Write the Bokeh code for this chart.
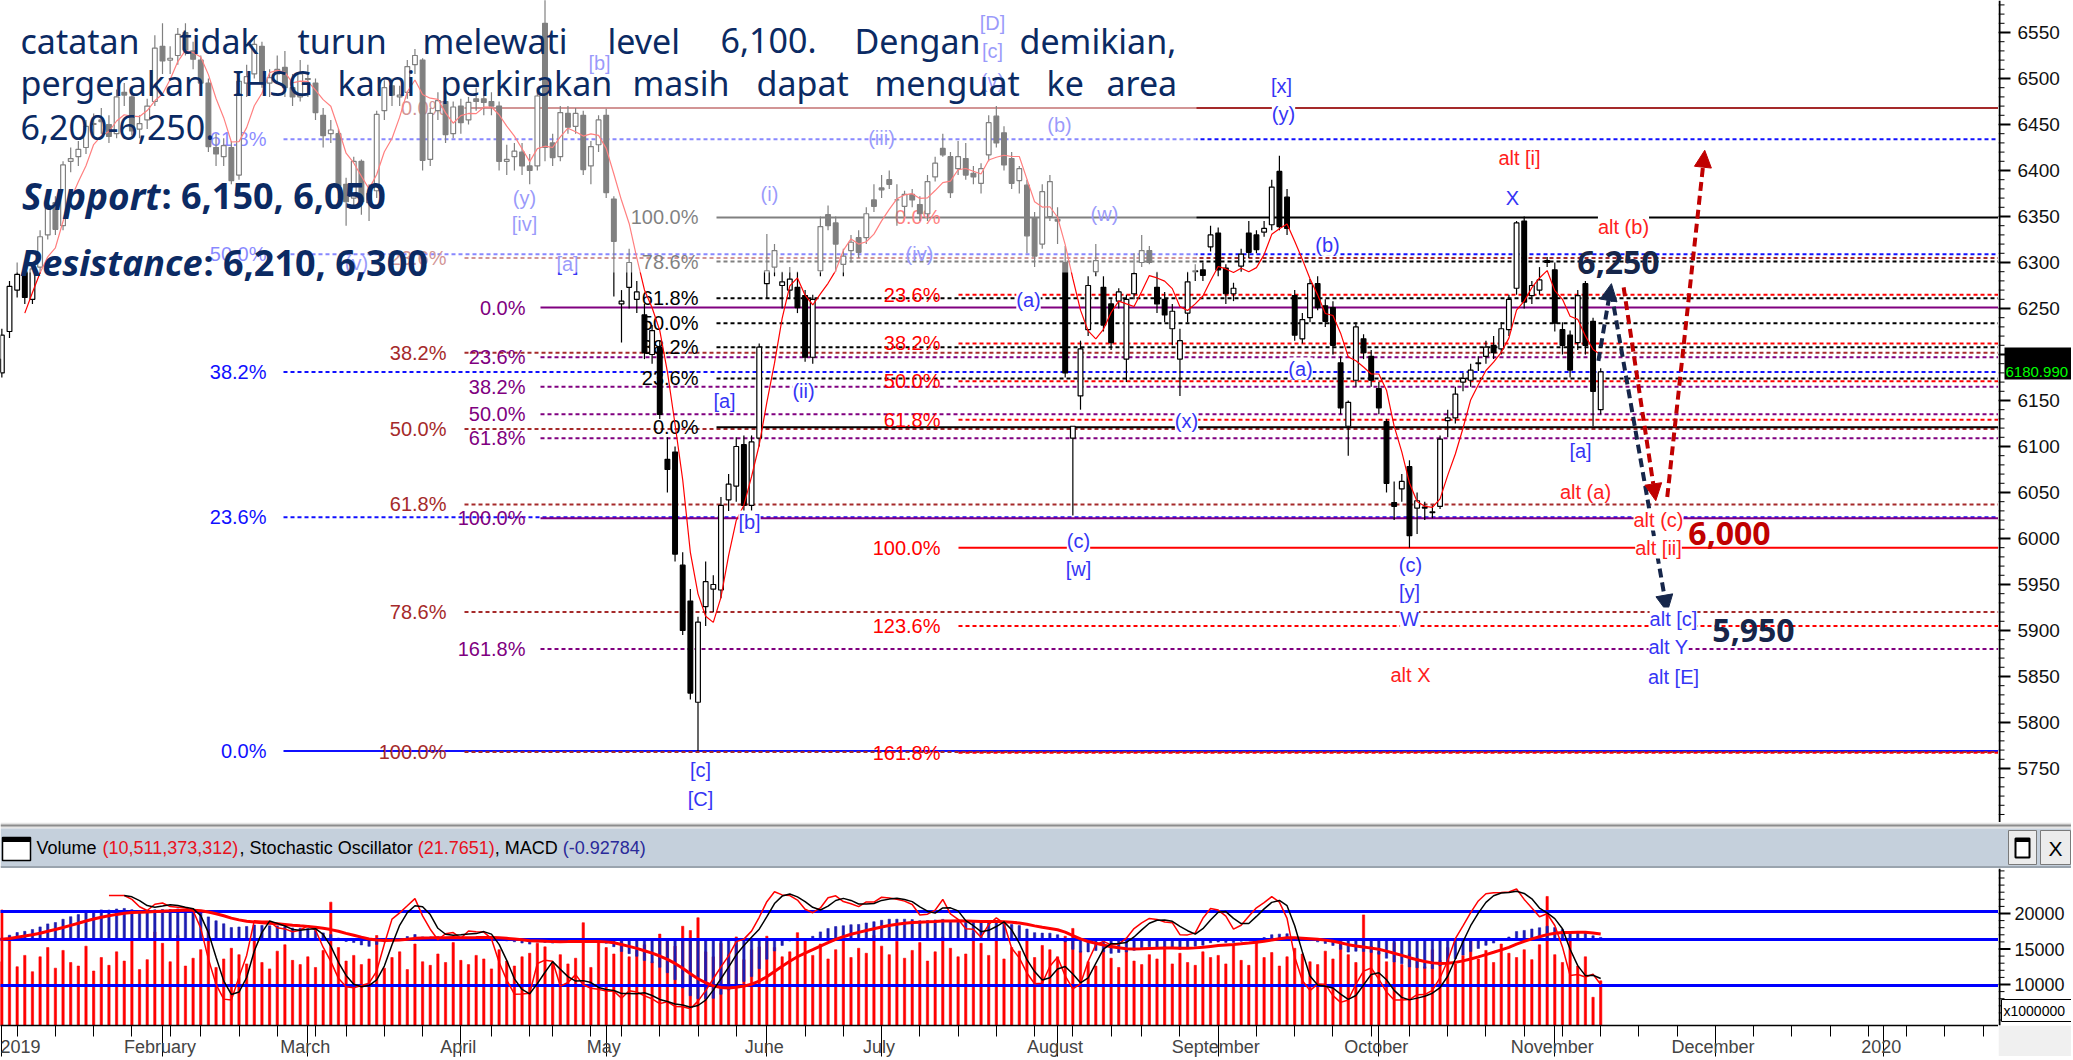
import numpy as np
import pandas as pd
from bokeh.plotting import figure
from bokeh.layouts import column, row
from bokeh.models import (ColumnDataSource, Range1d, FixedTicker, LabelSet,
                          Arrow, NormalHead)
from bokeh.core.properties import value
from bokeh.embed import file_html
from bokeh.resources import INLINE

# ======================= DATA =======================
# Daily IHSG candles, 2 Jan 2019 .. 11 Nov 2019 (one row of numbers per month)
open_ = [
 6195, 6180, 6225, 6270, 6290, 6260, 6295, 6330, 6365, 6340, 6410, 6415, 6425, 6450, 6455, 6450, 6440, 6485, 6480, 6445, 6455, 6475,
 6535, 6520, 6525, 6550, 6530, 6520, 6495, 6425, 6415, 6425, 6395, 6495, 6505, 6535, 6495, 6505, 6512, 6490, 6480,
 6500, 6495, 6460, 6440, 6440, 6385, 6370, 6410, 6365, 6378, 6465, 6492, 6480, 6485, 6515, 6520, 6412, 6465, 6475, 6440,
 6470, 6455, 6478, 6478, 6475, 6470, 6410, 6415, 6420, 6405, 6405, 6560, 6430, 6415, 6462, 6448, 6460, 6405, 6428,
 6460, 6369, 6255, 6273, 6260, 6243, 6200, 6208, 6086, 6094, 5971, 5932, 5822, 5926, 5945, 5944, 6042, 6057, 6102, 6036, 6109,
 6277, 6295, 6275, 6270, 6273, 6264, 6197, 6291, 6352, 6343, 6298, 6313, 6327, 6327, 6368,
 6381, 6390, 6368, 6361, 6374, 6363, 6353, 6393, 6424, 6415, 6402, 6413, 6397, 6386, 6417, 6459, 6441, 6413, 6389, 6384, 6348, 6320, 6350,
 6347, 6300, 6109, 6155, 6227, 6290, 6273, 6255, 6258, 6195, 6266, 6300, 6313, 6273, 6260, 6228, 6195, 6245, 6290, 6292, 6317,
 6332, 6294, 6266, 6296, 6332, 6330, 6333, 6341, 6399, 6371, 6264, 6217, 6240, 6277, 6253, 6251, 6191, 6122, 6172, 6217, 6198,
 6163, 6127, 6039, 6054, 6078, 6033, 6033, 6028, 6035, 6128, 6131, 6170, 6172, 6190, 6198, 6210, 6206, 6227, 6272, 6345, 6264, 6270, 6302,
 6292, 6227, 6221, 6213, 6277, 6236, 6140]
high = [
 6210, 6228, 6280, 6300, 6295, 6300, 6335, 6370, 6372, 6410, 6425, 6432, 6455, 6462, 6468, 6460, 6488, 6495, 6488, 6460, 6478, 6547,
 6560, 6535, 6555, 6560, 6540, 6525, 6500, 6440, 6435, 6432, 6500, 6515, 6545, 6540, 6510, 6525, 6530, 6505, 6520,
 6515, 6500, 6468, 6455, 6445, 6392, 6415, 6412, 6385, 6465, 6498, 6500, 6492, 6520, 6532, 6522, 6468, 6485, 6480, 6475,
 6478, 6480, 6490, 6488, 6485, 6475, 6428, 6430, 6430, 6418, 6490, 6636, 6440, 6470, 6470, 6468, 6465, 6432, 6460,
 6467, 6372, 6270, 6315, 6280, 6255, 6232, 6215, 6110, 6100, 5985, 5945, 5915, 5975, 5960, 6045, 6070, 6110, 6112, 6112, 6212,
 6331, 6320, 6290, 6295, 6290, 6270, 6265, 6350, 6362, 6350, 6315, 6330, 6335, 6360, 6385,
 6395, 6400, 6385, 6378, 6380, 6372, 6395, 6415, 6440, 6420, 6432, 6430, 6405, 6408, 6460, 6470, 6448, 6420, 6405, 6390, 6355, 6385, 6395,
 6360, 6318, 6122, 6215, 6285, 6320, 6285, 6260, 6272, 6265, 6310, 6330, 6318, 6290, 6268, 6255, 6228, 6290, 6298, 6300, 6340,
 6338, 6298, 6278, 6315, 6345, 6335, 6345, 6390, 6416, 6380, 6270, 6245, 6282, 6285, 6260, 6258, 6198, 6150, 6235, 6222, 6205,
 6170, 6130, 6062, 6070, 6085, 6050, 6040, 6036, 6112, 6140, 6165, 6180, 6190, 6198, 6215, 6220, 6235, 6265, 6345, 6350, 6280, 6295, 6306,
 6300, 6235, 6226, 6270, 6280, 6240, 6185]
low = [
 6165, 6175, 6218, 6262, 6255, 6255, 6288, 6325, 6330, 6335, 6398, 6405, 6418, 6438, 6440, 6430, 6435, 6470, 6438, 6435, 6445, 6470,
 6505, 6505, 6515, 6525, 6510, 6490, 6420, 6405, 6405, 6385, 6390, 6480, 6500, 6490, 6480, 6495, 6480, 6470, 6475,
 6480, 6455, 6425, 6430, 6370, 6340, 6360, 6352, 6345, 6370, 6455, 6470, 6470, 6478, 6505, 6400, 6405, 6455, 6430, 6435,
 6440, 6450, 6465, 6460, 6460, 6400, 6395, 6400, 6395, 6385, 6400, 6410, 6405, 6410, 6440, 6440, 6395, 6385, 6420,
 6370, 6263, 6213, 6250, 6245, 6195, 6190, 6130, 6050, 5975, 5895, 5825, 5769, 5905, 5920, 5935, 6030, 6040, 6030, 6030, 6100,
 6261, 6285, 6250, 6262, 6245, 6192, 6190, 6285, 6335, 6290, 6285, 6300, 6305, 6320, 6355,
 6370, 6380, 6340, 6350, 6360, 6345, 6345, 6388, 6415, 6370, 6395, 6390, 6385, 6375, 6410, 6425, 6400, 6380, 6375, 6310, 6295, 6315, 6345,
 6320, 6175, 6025, 6140, 6220, 6285, 6225, 6205, 6250, 6170, 6260, 6295, 6298, 6245, 6235, 6210, 6155, 6235, 6280, 6280, 6312,
 6285, 6255, 6258, 6290, 6305, 6310, 6328, 6335, 6335, 6330, 6215, 6212, 6235, 6248, 6230, 6200, 6135, 6090, 6165, 6195, 6165,
 6135, 6050, 6020, 6040, 5990, 6005, 6020, 6022, 6032, 6110, 6125, 6160, 6165, 6182, 6190, 6195, 6200, 6220, 6265, 6250, 6255, 6265, 6295,
 6225, 6200, 6175, 6205, 6200, 6122, 6135]
close = [
 6181, 6221, 6274, 6287, 6262, 6293, 6328, 6361, 6336, 6406, 6413, 6423, 6448, 6451, 6453, 6437, 6480, 6482, 6443, 6451, 6470, 6533,
 6519, 6522, 6548, 6531, 6521, 6495, 6426, 6418, 6427, 6389, 6497, 6502, 6537, 6495, 6501, 6510, 6490, 6480, 6505,
 6499, 6463, 6438, 6444, 6383, 6366, 6410, 6366, 6375, 6461, 6490, 6482, 6482, 6513, 6525, 6411, 6462, 6476, 6439, 6469,
 6452, 6474, 6475, 6474, 6470, 6410, 6412, 6421, 6405, 6400, 6481, 6425, 6414, 6463, 6447, 6462, 6401, 6426, 6455,
 6376, 6323, 6258, 6300, 6268, 6202, 6226, 6135, 6075, 5983, 5900, 5832, 5909, 5953, 5950, 6036, 6059, 6100, 6036, 6105, 6208,
 6291, 6313, 6279, 6282, 6251, 6197, 6260, 6339, 6340, 6320, 6307, 6322, 6311, 6353, 6361,
 6379, 6385, 6368, 6374, 6368, 6353, 6388, 6408, 6417, 6376, 6415, 6395, 6393, 6402, 6452, 6430, 6406, 6386, 6402, 6329, 6307, 6377, 6388,
 6345, 6180, 6122, 6206, 6275, 6302, 6232, 6213, 6268, 6260, 6288, 6313, 6300, 6255, 6243, 6247, 6215, 6279, 6291, 6286, 6330,
 6292, 6266, 6272, 6309, 6311, 6314, 6337, 6382, 6339, 6337, 6221, 6238, 6277, 6251, 6236, 6210, 6142, 6148, 6230, 6202, 6172,
 6142, 6060, 6035, 6062, 6003, 6041, 6034, 6029, 6108, 6131, 6157, 6174, 6183, 6191, 6208, 6202, 6228, 6260, 6343, 6257, 6275, 6281, 6300,
 6234, 6210, 6183, 6264, 6210, 6160, 6181]
# daily volume, x 1,000,000 shares
volume = [
 13200, 20500, 16800, 12500, 14100, 11800, 13900, 15200, 12300, 14800, 13100, 12600, 15400, 11900, 13800, 12700, 14600, 13300, 16200, 12100, 13500, 17400,
 15800, 13200, 16900, 12600, 13700, 14900, 17800, 12400, 13600, 15100, 14200, 12900, 16400, 13100, 12200, 14700, 15600, 13400, 12800,
 13900, 12400, 14800, 21600, 15200, 13300, 14100, 12800, 13600, 16900, 12300, 13800, 14600, 12100, 15700, 13200, 12700, 14300, 13100, 15900,
 13400, 12800, 14100, 13600, 12200, 14900, 13300, 12600, 13900, 14400, 15800, 15300, 13100, 14200, 12900, 13700, 18700, 12400, 16100,
 15200, 14300, 16100, 13900, 14800, 15600, 13200, 17100, 16300, 15400, 18200, 17600, 19400, 14600, 13900, 15800, 14200, 16700, 13500, 14900, 15300,
 16800, 15200, 13900, 14600, 17300, 16200, 14100, 15700, 13600, 14900, 16400, 13800, 15100, 14400, 16900,
 15400, 14200, 16100, 13700, 14800, 15900, 13300, 14600, 16700, 15100, 13900, 14300, 17200, 15800, 14100, 16400, 13600, 15200, 14700, 16300, 13800, 15500, 14900,
 13900, 16800, 17900, 14700, 13200, 12600, 14900, 13700, 12400, 15100, 13300, 12800, 14200, 13600, 15300, 12900, 14400, 13100, 12700, 14600, 13800,
 14100, 12900, 15600, 13400, 12700, 16200, 13800, 14500, 12600, 13900, 15100, 14300, 13200, 12800, 14700, 13600, 15800, 14200, 13100, 19800, 15400,
 14600, 13200, 15900, 12800, 14300, 13700, 12500, 14900, 13400, 15200, 12900, 14100, 16300, 13600, 14800, 13100, 15700, 14400, 13800, 14900, 13500, 15600, 22400,
 14200, 13100, 16400, 12600, 13900, 8200, 10511]

holidays = ["2019-01-01", "2019-02-05", "2019-03-07", "2019-04-03", "2019-04-17", "2019-04-19",
            "2019-05-01", "2019-05-30", "2019-06-03", "2019-06-04", "2019-06-05", "2019-06-06",
            "2019-06-07", "2019-08-12"]

price_ticks = list(range(5750, 6551, 50))
price_minor = list(range(5700, 6581, 10))
vol_ticks = [10000, 15000, 20000]
vol_minor = list(range(5000, 27001, 1000))

# Fibonacci sets: (label, level, line style)
fib_blue = [("0.0%", 5769, "solid"), ("23.6%", 6023, "dot"), ("38.2%", 6181, "dot"),
            ("50.0%", 6309, "dot"), ("61.8%", 6434, "dot")]
fib_brown = [("0.0%", 6468, "solid"), ("23.6%", 6305, "dot"), ("38.2%", 6202, "dot"), ("50.0%", 6119, "dot"),
             ("61.8%", 6037, "dot"), ("78.6%", 5920, "dot"), ("100.0%", 5768, "dot")]
fib_purple = [("0.0%", 6251, "solid"), ("23.6%", 6197, "dot"), ("38.2%", 6165, "dot"), ("50.0%", 6135, "dot"),
              ("61.8%", 6109, "dot"), ("100.0%", 6022, "solid"), ("161.8%", 5880, "dot")]
fib_black = [("0.0%", 6121, "solid"), ("23.6%", 6174, "dot"), ("38.2%", 6208, "dot"), ("50.0%", 6234, "dot"),
             ("61.8%", 6261, "dot"), ("78.6%", 6301, "dot"), ("100.0%", 6349, "solid")]
fib_red = [("0.0%", 6349, "none"), ("23.6%", 6265, "dot"), ("38.2%", 6212, "dot"), ("50.0%", 6171, "dot"),
           ("61.8%", 6129, "dot"), ("100.0%", 5990, "solid"), ("123.6%", 5905, "dot"), ("161.8%", 5767, "dot")]

# forecast paths (bar index, price)
fc_arrows = [((209.7, 6193), (211.4, 6277), "#16264a"),
             ((211.4, 6267), (218.7, 5920), "#16264a"),
             ((213.0, 6273), (217.2, 6041), "#c00000"),
             ((218.7, 6045), (223.6, 6422), "#c00000")]
last_price_text = "6180.990"
header_parts = [("Volume ", "#000000"), ("(10,511,373,312)", "#e8101c"), (", Stochastic Oscillator ", "#000000"),
                ("(21.7651)", "#e8101c"), (", MACD ", "#000000"), ("(-0.92784)", "#2a2a9a")]

# ======================= LAYOUT HELPERS (page pixels) =======================
FR_L, FR_R = 0, 1998          # plot frame left / right (page px)
P_TOP, P_BOT = 0, 822         # price pane
L_TOP, L_BOT = 868, 1025      # indicator pane
RB = 73                       # right axis band
XAX = 31                      # date axis height

def ix(px):   # page x -> bar index
    return 22 + (px - 162) / 7.65

def pr(py):   # page y -> price
    return 6550 - (py - 32) * 1.087

def vol_at(py):
    return 10000 + (984 - py) / 0.0071

def st_at(py):
    return 20 + (985 - py) / 1.2333

def mc_at(py):
    return (939 - py) * 2.3

# Arial / Liberation Sans advance widths (em) for laying out the header text run
_W = {" ": .278, "(": .333, ")": .333, ",": .278, ".": .278, "-": .333, "V": .667, "S": .667, "O": .778,
      "M": .833, "A": .667, "C": .722, "D": .722, "o": .556, "l": .222, "u": .556, "m": .833, "e": .556,
      "t": .278, "c": .5, "h": .556, "a": .556, "s": .5, "i": .222, "r": .333}

def text_w(s, size):
    return sum(_W.get(ch, .556) for ch in s) * size

NARROW = "Liberation Sans"
BLUE = "#3535f5"
RED = "#ff2020"
NAVY = "#0b2a63"
LBL = "20px"

def base_fig(**kw):
    f = figure(output_backend="svg", toolbar_location=None, min_border=0, min_border_left=0,
               min_border_right=0, min_border_top=0, min_border_bottom=0, outline_line_color=None,
               background_fill_color="white", border_fill_color="white", **kw)
    f.grid.visible = False
    return f

def axis_band(yr, height, ticks, minor, label_x, label_size, bottom_border=0):
    """Right-hand value axis drawn as its own narrow panel (x in px from the axis line)."""
    a = base_fig(frame_width=RB, frame_height=height, x_range=Range1d(0, RB), y_range=yr)
    a.min_border_bottom = bottom_border
    a.border_fill_color = "#f0f0f0"
    a.axis.visible = False
    lo_, hi_ = yr.start, yr.end
    a.segment(x0=[1], y0=[lo_], x1=[1], y1=[hi_], line_color="black", line_width=2)
    a.segment(x0=[0] * len(minor), y0=minor, x1=[6] * len(minor), y1=minor, line_color="black", line_width=1)
    a.segment(x0=[0] * len(ticks), y0=ticks, x1=[12] * len(ticks), y1=ticks, line_color="black", line_width=2)
    a.text(x=[label_x] * len(ticks), y=ticks, text=[str(t) for t in ticks], text_color="#111111",
           text_font=value(NARROW), text_font_size=label_size, text_align="left", text_baseline="middle")
    return a

# ======================= DERIVED =======================
n = len(close)
assert len(open_) == n and len(high) == n and len(low) == n and len(volume) == n
days = pd.bdate_range("2019-01-02", "2019-11-11")
days = days[~days.isin(pd.to_datetime(holidays))]
assert len(days) == n
future = pd.bdate_range("2019-11-12", "2020-02-28")
all_days = days.append(future)

df = pd.DataFrame({"x": np.arange(n), "o": open_, "h": high, "l": low, "c": close, "v": volume})
df["top"] = df[["o", "c"]].max(axis=1)
df["bot"] = df[["o", "c"]].min(axis=1)
df["up"] = df["c"] >= df["o"]
df["ma"] = df["c"].rolling(5).mean()
hh = df["h"].rolling(14).max()
ll = df["l"].rolling(14).min()
fastk = 100 * (df["c"] - ll) / (hh - ll)
df["sk"] = fastk.rolling(3).mean()
df["sd"] = df["sk"].rolling(3).mean()
ema12 = df["c"].ewm(span=12, adjust=False).mean()
ema26 = df["c"].ewm(span=26, adjust=False).mean()
df["macd"] = ema12 - ema26
df["sig"] = df["macd"].ewm(span=9, adjust=False).mean()

x_range = Range1d(ix(FR_L), ix(FR_R))
price_range = Range1d(pr(P_BOT), pr(P_TOP))
vol_range = Range1d(vol_at(L_BOT), vol_at(L_TOP))

# ======================= PRICE PANE =======================
p = base_fig(frame_width=FR_R - FR_L, frame_height=P_BOT - P_TOP, x_range=x_range, y_range=price_range)
p.axis.visible = False

fib_sets = [(fib_blue, "#1010ff", 283, 266), (fib_brown, "#a52a2a", 464, 446),
            (fib_purple, "#800080", 540, 525), (fib_black, "#000000", 716, 698),
            (fib_red, "#ff0000", 958, 940)]
x_end = ix(FR_R) + 1
for fset, col, start_px, lab_px in fib_sets:
    for lab, lev, style in fset:
        if style == "solid":
            p.segment(x0=[ix(start_px)], y0=[lev], x1=[x_end], y1=[lev], line_color=col, line_width=2)
        elif style == "dot":
            p.segment(x0=[ix(start_px)], y0=[lev], x1=[x_end], y1=[lev], line_color=col,
                      line_width=2, line_dash="4 3")
    p.text(x=[ix(lab_px)] * len(fset), y=[f[1] for f in fset], text=[f[0] for f in fset],
           text_color=col, text_font=value(NARROW), text_font_size=LBL,
           text_align="right", text_baseline="middle")

# candles
src = ColumnDataSource(df)
p.segment(x0="x", y0="l", x1="x", y1="h", source=src, line_color="black", line_width=1.2)
up_src = ColumnDataSource(df[df["up"]])
dn_src = ColumnDataSource(df[~df["up"]])
p.vbar(x="x", top="top", bottom="bot", width=0.62, source=up_src, fill_color="white",
       line_color="black", line_width=1.2)
p.vbar(x="x", top="top", bottom="bot", width=0.62, source=dn_src, fill_color="black",
       line_color="black", line_width=1.2)
p.line(x="x", y="ma", source=src, line_color="#ff0000", line_width=1.2)

# wave labels lying under the text panel (get faded by the overlay)
wave_u = [("[D]", 992, 22), ("[c]", 992, 50), ("(v)", 992, 80), ("[b]", 599, 62), ("(y)", 524, 197),
          ("[iv]", 524, 223), ("(iii)", 881, 137), ("(i)", 769, 193), ("(iv)", 919, 253),
          ("(b)", 1059, 124), ("(w)", 1104, 213), ("[a]", 567, 263), ("(v)", 356, 262)]
p.text(x=[ix(w[1]) for w in wave_u], y=[pr(w[2]) for w in wave_u], text=[w[0] for w in wave_u],
       text_color=BLUE, text_font=value(NARROW), text_font_size=LBL,
       text_align="center", text_baseline="middle")

# translucent text panel
p.quad(left=[ix(FR_L) - 1], right=[ix(1196)], bottom=[pr(272)], top=[pr(0) + 5],
       fill_color="white", fill_alpha=0.5, line_color=None)

# commentary text
line1 = [("catatan", 20), ("tidak", 179), ("turun", 297), ("melewati", 422), ("level", 607),
         ("6,100.", 720), ("Dengan", 854), ("demikian,", 1019)]
line2 = [("pergerakan", 20), ("IHSG", 232), ("kami", 337), ("perkirakan", 440), ("masih", 632),
         ("dapat", 756), ("menguat", 874), ("ke", 1046), ("area", 1106)]
line3 = [("6,200-6,250.", 20)]
for words, base in [(line1, 40), (line2, 82), (line3, 127)]:
    p.text(x=[ix(w[1]) for w in words], y=[pr(base)] * len(words), text=[w[0] for w in words],
           text_color=NAVY, text_font=value("Noto Sans"), text_font_size="34px",
           text_align="left", text_baseline="alphabetic")
p.text(x=[ix(160), ix(202)], y=[pr(195), pr(262)], text=["Support", "Resistance"],
       text_color=NAVY, text_font=value("Noto Sans"), text_font_size=["37px", "36px"],
       text_font_style="bold italic", text_align="right", text_baseline="alphabetic")
p.text(x=[ix(161), ix(203)], y=[pr(195), pr(262)], text=[": 6,150, 6,050", ": 6,210, 6,300"],
       text_color=NAVY, text_font=value("Noto Sans"), text_font_size="36px",
       text_font_style="bold", text_baseline="alphabetic")

# forecast arrows (under the wave labels)
for (x0, y0), (x1, y1), col in fc_arrows:
    p.add_layout(Arrow(end=NormalHead(size=17, fill_color=col, line_color=col),
                       x_start=x0, y_start=y0, x_end=x1, y_end=y1, line_color=col,
                       line_width=4, line_dash="9 5"))

# wave labels (normal)
wave = [("[x]", 1281, 85, BLUE), ("(y)", 1283, 113, BLUE), ("(ii)", 803, 390, BLUE), ("[a]", 724, 400, BLUE),
        ("[b]", 749, 521, BLUE), ("[c]", 700, 769, BLUE), ("[C]", 700, 798, BLUE), ("(a)", 1028, 299, BLUE),
        ("(c)", 1078, 540, BLUE), ("[w]", 1078, 568, BLUE), ("(x)", 1186, 420, BLUE), ("(b)", 1327, 244, BLUE),
        ("(a)", 1300, 368, BLUE), ("(c)", 1410, 564, BLUE), ("[y]", 1409, 591, BLUE), ("W", 1409, 618, BLUE),
        ("alt X", 1410, 674, RED), ("alt [i]", 1519, 157, RED), ("X", 1512, 197, BLUE),
        ("alt (b)", 1623, 226, RED), ("[a]", 1580, 450, BLUE), ("alt (a)", 1585, 491, RED),
        ("alt (c)", 1658, 519, RED), ("alt [ii]", 1658, 547, RED), ("alt [c]", 1673, 618, BLUE),
        ("alt Y", 1668, 646, BLUE), ("alt [E]", 1673, 676, BLUE)]
wsrc = ColumnDataSource(dict(x=[ix(w[1]) for w in wave], y=[pr(w[2]) for w in wave],
                             t=[w[0] for w in wave], c=[w[3] for w in wave]))
p.add_layout(LabelSet(x="x", y="y", text="t", source=wsrc, text_color="c",
                      text_font=value(NARROW), text_font_size=LBL, text_align="center",
                      text_baseline="middle", background_fill_color="white", background_fill_alpha=1.0))

# target numbers
p.text(x=[ix(1618), ix(1729), ix(1753)], y=[pr(262), pr(533), pr(630)], text=["6,250", "6,000", "5,950"],
       text_color=["#16264a", "#c00000", "#16264a"], text_font=value("Noto Sans"), text_font_size="32px",
       text_font_style="bold", text_align="center", text_baseline="middle")

# price axis band with the last-price tag
pa = axis_band(price_range, P_BOT - P_TOP, price_ticks, price_minor, 19, "19px")
pa.border_fill_color = "white"
pa.quad(left=[6], right=[RB], bottom=[pr(379)], top=[pr(347)], fill_color="black", line_color=None)
pa.text(x=[7], y=[close[-1]], text=[last_price_text], text_color="#00ff00", text_font=value(NARROW),
        text_font_size="15px", text_align="left", text_baseline="middle")

# ======================= HEADER BAR =======================
HW = FR_R + RB
h = base_fig(frame_width=HW, frame_height=L_TOP - P_BOT, x_range=Range1d(0, HW), y_range=Range1d(L_TOP, P_BOT))
h.axis.visible = False
h.quad(left=[0], right=[HW], top=[822], bottom=[828], fill_color="#e4e4e4", line_color=None)
h.segment(x0=[0], y0=[825], x1=[HW], y1=[825], line_color="#8c8c8c", line_width=2)
h.quad(left=[0], right=[HW], top=[828], bottom=[866], fill_color="#c5d0dc", line_color=None)
h.segment(x0=[0], y0=[866.5], x1=[HW], y1=[866.5], line_color="#9aa4ae", line_width=2)
h.quad(left=[2], right=[30], top=[837], bottom=[860], fill_color="white", line_color="black", line_width=1.5)
h.quad(left=[2], right=[30], top=[837], bottom=[841], fill_color="black", line_color="black")
HDR_SIZE = 18
hx, xpos = 36.0, []
for s, c in header_parts:
    xpos.append(hx)
    hx += text_w(s, HDR_SIZE)
h.text(x=xpos, y=[847] * len(header_parts), text=[t[0] for t in header_parts],
       text_color=[t[1] for t in header_parts], text_font=value(NARROW), text_font_size=f"{HDR_SIZE}px",
       text_align="left", text_baseline="middle")
h.quad(left=[2008], right=[2036], top=[830], bottom=[864], fill_color="#ececec", line_color="#7a7a7a")
h.quad(left=[2015], right=[2029], top=[838], bottom=[857], fill_color="white", line_color="black", line_width=2)
h.quad(left=[2015], right=[2029], top=[838], bottom=[841], fill_color="black", line_color="black")
h.quad(left=[2040], right=[2070], top=[830], bottom=[864], fill_color="#ececec", line_color="#7a7a7a")
h.text(x=[2055], y=[848], text=["X"], text_color="black", text_font=value(NARROW), text_font_size="21px",
       text_align="center", text_baseline="middle")

# ======================= INDICATOR PANE =======================
lo = base_fig(frame_width=FR_R - FR_L, frame_height=L_BOT - L_TOP, x_range=x_range, y_range=vol_range)
lo.min_border_bottom = XAX
lo.yaxis.visible = False
lo.extra_y_ranges = {"stoch": Range1d(st_at(L_BOT), st_at(L_TOP)),
                     "macd": Range1d(mc_at(L_BOT), mc_at(L_TOP))}
lo.vbar(x="x", top="v", bottom=0, width=0.3, source=src, fill_color="#ff0000", line_color="#ff0000", line_width=0.6)
lo.vbar(x="x", top="macd", bottom=0, width=0.3, source=src, fill_color="#1c1cb0", line_color="#1c1cb0",
        line_width=0.6, y_range_name="macd")
xs = [ix(FR_L) - 1, ix(FR_R) + 1]
for lev, rng in [(80, "stoch"), (0, "macd"), (20, "stoch")]:
    lo.line(x=xs, y=[lev, lev], line_color="#0000ff", line_width=3, y_range_name=rng)
lo.line(x="x", y="sig", source=src, line_color="#ff0000", line_width=3, y_range_name="macd")
lo.line(x="x", y="sk", source=src, line_color="#ff0000", line_width=1.5, y_range_name="stoch")
lo.line(x="x", y="sd", source=src, line_color="#000000", line_width=1.5, y_range_name="stoch")

# month / week ticks
month_idx, month_lab = [], []
week_idx = []
seen_weeks = set()
for i, d in enumerate(all_days):
    if i == 0 or d.month != all_days[i - 1].month:
        month_idx.append(i)
        month_lab.append(str(d.year) if d.month == 1 else d.strftime("%B"))
    wk = (d.isocalendar()[0], d.isocalendar()[1])
    if wk not in seen_weeks:
        seen_weeks.add(wk)
        week_idx.append(i)
month_idx[0] = 1   # first (January) label pinned just inside the left edge
xa = lo.xaxis[0]
xa.ticker = FixedTicker(ticks=month_idx, minor_ticks=week_idx)
xa.major_label_overrides = {m: " " + lab for m, lab in zip(month_idx, month_lab)}
xa.major_label_text_align = "left"
xa.major_label_text_font = NARROW
xa.major_label_text_font_size = "18px"
xa.major_tick_in = 0
xa.major_tick_out = 31
xa.minor_tick_in = 0
xa.minor_tick_out = 11
xa.major_label_standoff = -20
xa.axis_line_width = 1.5

# volume axis band with the unit box
la = axis_band(vol_range, L_BOT - L_TOP, vol_ticks, vol_minor, 16, "18px", bottom_border=XAX)
la.quad(left=[3], right=[RB + 1], bottom=[vol_at(1021)], top=[vol_at(999)], fill_color="white",
        line_color="black", line_width=1)
la.text(x=[5], y=[vol_at(1010)], text=["x1000000"], text_color="black", text_font=value(NARROW),
        text_font_size="14px", text_align="left", text_baseline="middle")

layout = column(row(p, pa, spacing=0), h, row(lo, la, spacing=0), spacing=0)
open("out.html", "w").write(file_html(layout, INLINE))
